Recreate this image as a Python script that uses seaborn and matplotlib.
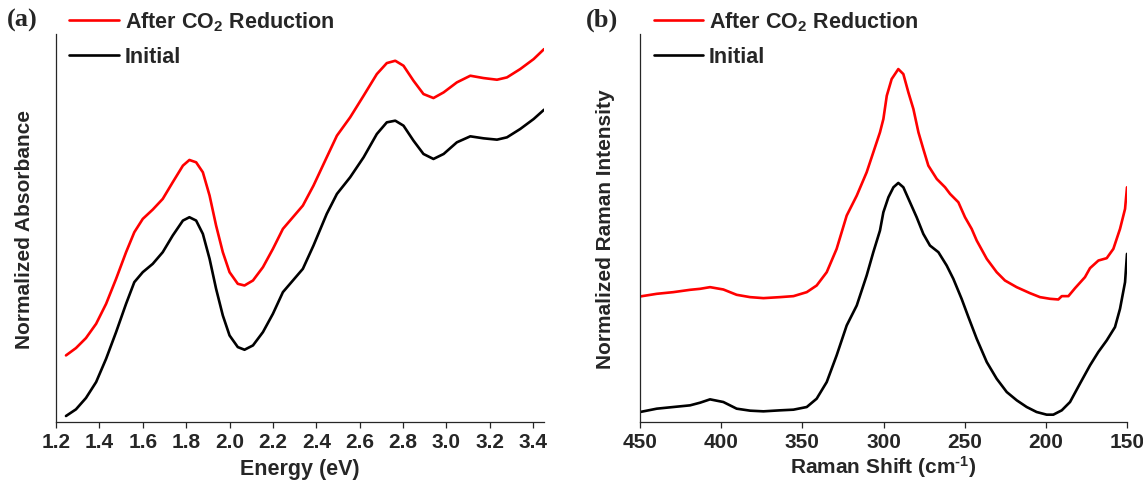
import numpy as np
import pandas as pd
import seaborn as sns
import matplotlib
matplotlib.use("Agg")
import matplotlib.pyplot as plt

# ---- panel (a): UV-vis absorbance ----
energy = [1.246, 1.292, 1.338, 1.385, 1.431, 1.477, 1.523, 1.561, 1.600, 1.646,
          1.692, 1.738, 1.785, 1.815, 1.846, 1.877, 1.908, 1.938, 1.969, 2.000,
          2.038, 2.069, 2.108, 2.154, 2.200, 2.246, 2.292, 2.338, 2.387, 2.448,
          2.495, 2.556, 2.618, 2.679, 2.725, 2.764, 2.802, 2.848, 2.894, 2.940,
          2.987, 3.048, 3.110, 3.171, 3.233, 3.279, 3.340, 3.402, 3.450]
abs_after = [0.200, 0.222, 0.252, 0.295, 0.355, 0.430, 0.510, 0.570, 0.610, 0.638,
             0.670, 0.720, 0.770, 0.787, 0.780, 0.750, 0.680, 0.590, 0.510, 0.450,
             0.415, 0.410, 0.425, 0.465, 0.520, 0.580, 0.615, 0.650, 0.710, 0.795,
             0.860, 0.915, 0.980, 1.045, 1.078, 1.085, 1.070, 1.025, 0.985, 0.973,
             0.990, 1.020, 1.040, 1.033, 1.028, 1.035, 1.060, 1.090, 1.120]
abs_initial = [0.018, 0.038, 0.072, 0.120, 0.190, 0.270, 0.355, 0.420, 0.450, 0.475,
               0.510, 0.560, 0.605, 0.615, 0.605, 0.565, 0.490, 0.400, 0.320, 0.260,
               0.225, 0.217, 0.230, 0.270, 0.325, 0.390, 0.425, 0.460, 0.530, 0.625,
               0.685, 0.735, 0.795, 0.865, 0.900, 0.905, 0.890, 0.845, 0.805, 0.790,
               0.805, 0.840, 0.858, 0.852, 0.848, 0.855, 0.880, 0.910, 0.938]

# ---- panel (b): Raman spectra ----
shift_after = [450, 439.7, 429.5, 419.2, 413.0, 406.9, 398.7, 390.5, 382.2, 374.0,
               363.8, 355.5, 347.3, 341.2, 335.0, 328.9, 322.7, 316.5, 310.4, 306.3,
               302.2, 300.1, 298.0, 295.0, 290.9, 287.8, 284.7, 281.6, 278.5, 275.5,
               272.4, 267.2, 262.1, 259.0, 253.9, 249.8, 245.7, 242.6, 236.4, 230.3,
               225.2, 218.0, 209.8, 203.6, 197.4, 192.3, 190.2, 186.1, 182.0, 175.9,
               172.8, 167.6, 162.5, 158.4, 154.3, 151.2, 150]
raman_after = [0.377, 0.385, 0.390, 0.397, 0.400, 0.405, 0.398, 0.382, 0.375, 0.372,
               0.375, 0.378, 0.390, 0.410, 0.450, 0.520, 0.620, 0.680, 0.750, 0.810,
               0.870, 0.910, 0.980, 1.030, 1.060, 1.045, 0.990, 0.940, 0.870, 0.820,
               0.770, 0.730, 0.705, 0.685, 0.660, 0.615, 0.580, 0.545, 0.490, 0.450,
               0.425, 0.405, 0.387, 0.375, 0.370, 0.368, 0.378, 0.378, 0.402, 0.435,
               0.462, 0.485, 0.492, 0.520, 0.580, 0.640, 0.705]
shift_initial = [450, 439.7, 429.5, 419.2, 413.0, 406.9, 398.7, 390.5, 382.2, 374.0,
                 363.8, 355.5, 347.3, 341.2, 335.0, 328.9, 322.7, 316.5, 310.4, 306.3,
                 302.2, 300.1, 297.0, 293.9, 290.9, 287.8, 283.7, 279.6, 275.5, 271.4,
                 266.2, 261.1, 257.0, 251.9, 247.7, 242.6, 236.4, 230.3, 224.1, 217.9,
                 211.8, 205.7, 199.5, 195.4, 190.2, 185.1, 179.0, 172.8, 167.7, 162.5,
                 157.4, 154.3, 151.2, 150]
raman_initial = [0.030, 0.040, 0.045, 0.050, 0.058, 0.068, 0.060, 0.040, 0.034, 0.032,
                 0.035, 0.037, 0.045, 0.070, 0.120, 0.200, 0.290, 0.350, 0.440, 0.510,
                 0.575, 0.630, 0.675, 0.705, 0.718, 0.705, 0.660, 0.615, 0.565, 0.530,
                 0.510, 0.470, 0.430, 0.370, 0.315, 0.250, 0.180, 0.130, 0.090, 0.065,
                 0.045, 0.030, 0.022, 0.022, 0.035, 0.060, 0.115, 0.170, 0.210, 0.245,
                 0.285, 0.340, 0.420, 0.505]

after_label = "After CO$_2$ Reduction"
initial_label = "Initial"

sns.set_style("ticks")
plt.rcParams["font.family"] = ["Liberation Sans", "DejaVu Sans"]
plt.rcParams["font.weight"] = "bold"
plt.rcParams["mathtext.fontset"] = "custom"
plt.rcParams["mathtext.rm"] = "Liberation Sans:bold"
plt.rcParams["mathtext.it"] = "Liberation Sans:bold"
plt.rcParams["mathtext.bf"] = "Liberation Sans:bold"

fig = plt.figure(figsize=(11.43, 4.81), dpi=100)
ax_a = fig.add_axes([0.049, 0.1206, 0.427, 0.8064])
ax_b = fig.add_axes([0.560, 0.1206, 0.426, 0.8064])

df_a = pd.concat([
    pd.DataFrame({"x": energy, "y": abs_after, "s": after_label}),
    pd.DataFrame({"x": energy, "y": abs_initial, "s": initial_label}),
])
df_b = pd.concat([
    pd.DataFrame({"x": shift_after, "y": raman_after, "s": after_label}),
    pd.DataFrame({"x": shift_initial, "y": raman_initial, "s": initial_label}),
])
pal = {after_label: "#ff0000", initial_label: "#000000"}

for ax, df in [(ax_a, df_a), (ax_b, df_b)]:
    sns.lineplot(data=df, x="x", y="y", hue="s", palette=pal, sort=False,
                 linewidth=1.9, ax=ax, estimator=None)
    ax.set_ylim(0, 1.165)
    ax.set_yticks([])
    sns.despine(ax=ax)
    ax.spines["left"].set_linewidth(0.9)
    ax.spines["bottom"].set_linewidth(0.9)
    ax.tick_params(axis="x", length=4, width=0.9, labelsize=15, pad=3)
    leg = ax.legend(loc="upper left", bbox_to_anchor=(0.01, 1.085), frameon=False,
                    fontsize=15.5, handlelength=2.3, handletextpad=0.28,
                    labelspacing=0.6, borderaxespad=0)
    for t in leg.get_texts():
        t.set_fontweight("bold")

ticks_a = np.round(np.arange(1.2, 3.41, 0.2), 1)
ax_a.set_xlim(1.2, 3.45)
ax_a.set_xticks(ticks_a)
ax_a.set_xticklabels([f"{v:.1f}" for v in ticks_a], fontweight="bold")
ax_a.set_xlabel("Energy (eV)", fontsize=15.5, fontweight="bold", labelpad=5)
ax_a.set_ylabel("Normalized Absorbance", fontsize=15, fontweight="bold", labelpad=16)

ticks_b = [450, 400, 350, 300, 250, 200, 150]
ax_b.set_xlim(450, 150)
ax_b.set_xticks(ticks_b)
ax_b.set_xticklabels([str(v) for v in ticks_b], fontweight="bold")
ax_b.set_xlabel("Raman Shift (cm$^{\\text{-}1}$)", fontsize=15, fontweight="bold", labelpad=2)
ax_b.set_ylabel("Normalized Raman Intensity", fontsize=15, fontweight="bold", labelpad=18)

fig.text(0.006, 0.945, "(a)", fontsize=19, fontweight="bold", family="Liberation Serif")
fig.text(0.513, 0.945, "(b)", fontsize=19, fontweight="bold", family="Liberation Serif")

fig.savefig("out.png", dpi=100)
